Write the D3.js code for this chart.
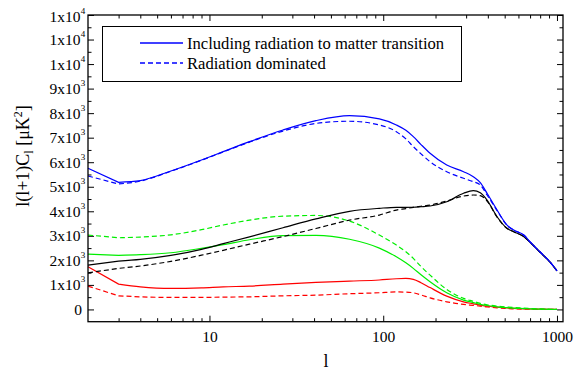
<!DOCTYPE html>
<meta charset="utf-8">
<head>
  <script src="https://d3js.org/d3.v7.min.js"></script>
  <style>
    body { margin: 0; background: #fff; }
    svg { display: block; font-family: "Liberation Serif", "Times New Roman", serif; }
  </style>
</head>
<body>
<div id="chart"></div>
<script>
// multipole values shared by all curves
var ell = [2, 3, 4, 6, 9, 12, 17, 26.5, 41, 64, 95, 119, 135, 149, 165, 186, 232, 290, 330, 362, 396, 452, 516, 564, 645, 699, 797, 910, 1000];

var blueSolid  = [5753, 5182, 5250, 5643, 6091, 6430, 6838, 7315, 7695, 7899, 7764, 7519, 7300, 7042, 6720, 6365, 5887, 5614, 5410, 5165, 4733, 4051, 3439, 3235, 3031, 2758, 2350, 1942, 1575];
var blueDash   = [5439, 5112, 5230, 5630, 6080, 6420, 6820, 7270, 7580, 7670, 7519, 7246, 6950, 6634, 6340, 6022, 5614, 5345, 5206, 5071, 4663, 4030, 3430, 3230, 3025, 2755, 2350, 1942, 1575];
var blackSolid = [1807, 1971, 2040, 2200, 2450, 2680, 2960, 3330, 3690, 4000, 4121, 4162, 4162, 4165, 4185, 4215, 4390, 4733, 4839, 4757, 4459, 3778, 3305, 3166, 2962, 2740, 2340, 1935, 1570];
var blackDash  = [1493, 1673, 1770, 1960, 2210, 2410, 2660, 2970, 3300, 3640, 3847, 4051, 4110, 4162, 4205, 4255, 4418, 4622, 4663, 4635, 4418, 3760, 3300, 3166, 2962, 2740, 2340, 1935, 1570];
var greenSolid = [2256, 2203, 2230, 2310, 2490, 2640, 2840, 3010, 3020, 2860, 2500, 2146, 1900, 1673, 1410, 1126, 677, 379, 280, 204, 160, 106, 75, 53, 35, 25, 12, 5, 0];
var greenDash  = [3031, 2921, 2950, 3040, 3250, 3440, 3640, 3800, 3830, 3600, 3031, 2623, 2350, 2081, 1750, 1399, 816, 449, 330, 245, 190, 135, 100, 82, 55, 40, 20, 8, 3];
var redSolid   = [1738, 1032, 922, 857, 881, 922, 951, 1032, 1102, 1155, 1200, 1250, 1262, 1225, 1090, 890, 543, 310, 230, 175, 130, 94, 65, 41, 25, 18, 10, 4, 0];
var redDash    = [951, 555, 514, 490, 490, 502, 514, 555, 583, 640, 680, 712, 706, 677, 590, 473, 310, 204, 165, 135, 100, 65, 40, 24, 15, 10, 5, 2, 0];

var xMajor = [10, 100, 1000];
var xMinor = [3, 4, 5, 6, 7, 8, 9, 20, 30, 40, 50, 60, 70, 80, 90, 200, 300, 400, 500, 600, 700, 800, 900];
var yMajor = d3.range(0, 12001, 1000);
var yMinor = d3.range(500, 12000, 1000);

var legendLabels = ["Including radiation to matter transition", "Radiation dominated"];

var W = 576, H = 373;
var m = {left: 88, right: 563, top: 15, bottom: 321.7};

var svg = d3.select("#chart").append("svg")
  .attr("width", W)
  .attr("height", H);

var x = d3.scaleLog().domain([2, 1083]).range([m.left, m.right]);
var y = d3.scaleLinear().domain([-500, 12000]).range([m.bottom, m.top]);

// ticks (all pointing inward)
function hideDomain(g) { g.select(".domain").remove(); g.selectAll("line").attr("stroke", "#000").attr("stroke-width", 1); }

svg.append("g").attr("transform", "translate(0," + m.bottom + ")")
  .call(d3.axisBottom(x).tickValues(xMajor).tickSize(-6).tickFormat(d3.format("d")))
  .call(hideDomain)
  .call(function(g) {
    g.selectAll("text").attr("y", 9.5).attr("font-size", "15.5px")
      .attr("font-family", "Liberation Serif").attr("fill", "#000");
  });
svg.append("g").attr("transform", "translate(0," + m.bottom + ")")
  .call(d3.axisBottom(x).tickValues(xMinor).tickSize(-3.5).tickFormat(""))
  .call(hideDomain);
svg.append("g").attr("transform", "translate(0," + m.top + ")")
  .call(d3.axisTop(x).tickValues(xMajor).tickSize(-6).tickFormat(""))
  .call(hideDomain);
svg.append("g").attr("transform", "translate(0," + m.top + ")")
  .call(d3.axisTop(x).tickValues(xMinor).tickSize(-3.5).tickFormat(""))
  .call(hideDomain);

svg.append("g").attr("transform", "translate(" + m.left + ",0)")
  .call(d3.axisLeft(y).tickValues(yMajor).tickSize(-6).tickFormat(""))
  .call(hideDomain);
svg.append("g").attr("transform", "translate(" + m.left + ",0)")
  .call(d3.axisLeft(y).tickValues(yMinor).tickSize(-3.5).tickFormat(""))
  .call(hideDomain);
svg.append("g").attr("transform", "translate(" + m.right + ",0)")
  .call(d3.axisRight(y).tickValues(yMajor).tickSize(-6).tickFormat(""))
  .call(hideDomain);
svg.append("g").attr("transform", "translate(" + m.right + ",0)")
  .call(d3.axisRight(y).tickValues(yMinor).tickSize(-3.5).tickFormat(""))
  .call(hideDomain);

// y tick labels like "3x10^3"; 10000+ all printed as 1x10^4
var yLab = svg.append("g").attr("font-size", "15.5px").attr("fill", "#000");
yMajor.forEach(function(v) {
  var base, exp;
  if (v === 0) { base = "0"; exp = null; }
  else if (v < 10000) { base = (v / 1000) + "x10"; exp = "3"; }
  else { base = "1x10"; exp = "4"; }
  var ty = y(v) + (v === 12000 ? 1.5 : 0);
  yLab.append("text")
    .attr("x", exp ? m.left - 7.5 : m.left - 6).attr("y", ty + 5.5)
    .attr("text-anchor", "end")
    .text(base);
  if (exp) {
    yLab.append("text")
      .attr("x", m.left - 7.3).attr("y", ty - 2.5)
      .attr("font-size", "9px")
      .text(exp);
  }
});

// curves: first step (l=2 to 3) straight, the rest smooth
var series = [
  { v: redDash, c: "#ff0000", d: true }, { v: redSolid, c: "#ff0000", d: false },
  { v: greenDash, c: "#00ee00", d: true }, { v: greenSolid, c: "#00ee00", d: false },
  { v: blackDash, c: "#000000", d: true }, { v: blackSolid, c: "#000000", d: false },
  { v: blueDash, c: "#0000ff", d: true }, { v: blueSolid, c: "#0000ff", d: false }
];

var smooth = d3.line()
  .x(function(d) { return x(d[0]); })
  .y(function(d) { return y(d[1]); })
  .curve(d3.curveMonotoneX);
var straight = d3.line()
  .x(function(d) { return x(d[0]); })
  .y(function(d) { return y(d[1]); });

var plot = svg.append("g");
series.forEach(function(s) {
  var pts = ell.map(function(l, i) { return [l, s.v[i]]; });
  plot.append("path")
    .attr("fill", "none")
    .attr("stroke", s.c)
    .attr("stroke-width", 1.2)
    .attr("stroke-dasharray", s.d ? "5,3" : null)
    .attr("d", straight(pts.slice(0, 2)) + smooth(pts.slice(1)).replace(/^M/, "L"));
});

// frame
svg.append("rect")
  .attr("x", m.left).attr("y", m.top)
  .attr("width", m.right - m.left).attr("height", m.bottom - m.top)
  .attr("fill", "none").attr("stroke", "#000").attr("stroke-width", 1.3);

// legend
var lg = svg.append("g");
lg.append("rect").attr("x", 102.5).attr("y", 26.5).attr("width", 359).attr("height", 55)
  .attr("fill", "#fff").attr("stroke", "#000").attr("stroke-width", 1);
legendLabels.forEach(function(t, i) {
  var ly = 43 + i * 20;
  lg.append("line").attr("x1", 140).attr("x2", 183).attr("y1", ly).attr("y2", ly)
    .style("stroke", "#0000ff").style("stroke-width", "1.3px")
    .style("stroke-dasharray", i === 1 ? "5,3" : "none");
  lg.append("text").attr("x", 187).attr("y", ly + 5.5).attr("font-size", "16.6px").text(t);
});

// axis titles
svg.append("text").attr("x", 326).attr("y", 367).attr("text-anchor", "middle")
  .attr("font-size", "18px").text("l");

var yt = svg.append("text")
  .attr("transform", "translate(29,156) rotate(-90)")
  .attr("text-anchor", "middle").attr("font-size", "18px");
yt.append("tspan").text("l(l+1)C");
yt.append("tspan").attr("font-size", "12px").attr("dy", 4).text("l");
yt.append("tspan").attr("dy", -4).text(" [\u03bcK");
yt.append("tspan").attr("font-size", "12px").attr("dy", -7).text("2");
yt.append("tspan").attr("dy", 7).text("]");
</script>
</body>
